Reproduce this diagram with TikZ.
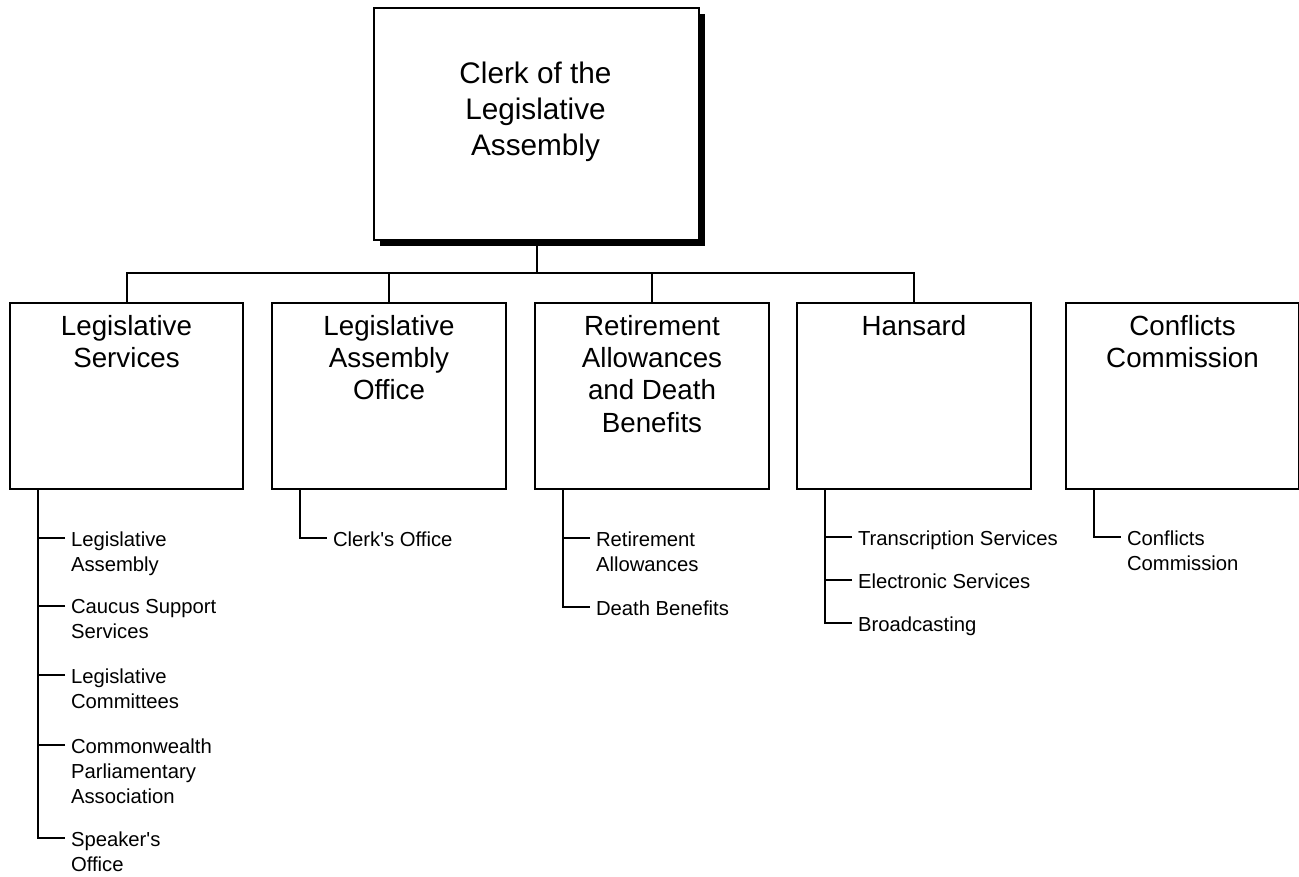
\documentclass[tikz,border=0pt]{standalone}
\usepackage{fontspec}
\newfontfamily\arial{Liberation Sans}
\usetikzlibrary{shadows}
\begin{document}
\begin{tikzpicture}[x=0.75pt,y=-0.75pt,line width=1.5pt,
  unit/.style={draw,fill=white,line width=1.5pt,inner sep=0pt,anchor=north west,
    minimum width=174.75pt,minimum height=139.5pt},
  topbox/.style={draw,fill=white,line width=1.5pt,inner sep=0pt,anchor=north west,
    minimum width=243.75pt,minimum height=174pt,
    drop shadow={shadow xshift=4.8pt,shadow yshift=-4.8pt,fill=black,opacity=1}},
  toptext/.style={anchor=north,inner sep=0pt,align=center,font=\arial\fontsize{22.3}{27}\selectfont},
  unittext/.style={anchor=north,inner sep=0pt,align=center,font=\arial\fontsize{20.8}{24.3}\selectfont},
  item/.style={anchor=north west,inner sep=0pt,align=left,font=\arial\fontsize{15.2}{18.9}\selectfont},
  link/.style={line width=1.5pt}]
\useasboundingbox (0,0) rectangle (1299,876);

% top box
\node[topbox] (top) at (373,7) {};
\node[toptext] (toptxt) at (535.5,61) {Clerk of the\\Legislative\\Assembly};

% second level boxes
\node[unit] (ls)  at (9,302) {};
\node[unit,minimum width=175.5pt] (lao) at (271,302) {};
\node[unit,minimum width=175.5pt] (ra)  at (534,302) {};
\node[unit,minimum width=175.5pt] (han) at (796,302) {};
\node[unit] (cc)  at (1065,302) {};

\node[unittext] (lstxt)  at (ls.center |- 0,314) {Legislative\\Services};
\node[unittext] (laotxt) at (lao.center |- 0,314) {Legislative\\Assembly\\Office};
\node[unittext] (ratxt)  at (ra.center |- 0,314) {Retirement\\Allowances\\and Death\\Benefits};
\node[unittext] (hantxt) at (han.center |- 0,314) {Hansard};
\node[unittext] (cctxt)  at (cc.center |- 0,314) {Conflicts\\Commission};

% bus
\coordinate (j) at (top.south |- 0,273);
\draw[link] (top.south) -- (j);
\draw[link] (j) -| (ls.north);
\draw[link] (j) -| (lao.north);
\draw[link] (j) -| (ra.north);
\draw[link] (j) -| (han.north);

% sub items: Legislative Services
\node[item] (ls1) at (70,530.6) {Legislative\\Assembly};
\node[item] (ls2) at (70,598.6) {Caucus Support\\Services};
\node[item] (ls3) at (70,667.6) {Legislative\\Committees};
\node[item] (ls4) at (70,737.6) {Commonwealth\\Parliamentary\\Association};
\node[item] (ls5) at (70,830.6) {Speaker's\\Office};
\draw[link] ([xshift=21.75pt]ls.south west) |- ([shift={(-5,7.4)}]ls5.north west);
\foreach \n in {ls1,ls2,ls3,ls4}
  \draw[link] ([shift={(-5,7.4)}]\n.north west) -- ++(-27,0);

% Legislative Assembly Office
\node[item] (lao1) at (332,530.6) {Clerk's Office};
\draw[link] ([xshift=21.75pt]lao.south west) |- ([shift={(-5,7.4)}]lao1.north west);

% Retirement Allowances
\node[item] (ra1) at (595,530.6) {Retirement\\Allowances};
\node[item] (ra2) at (595,599.6) {Death Benefits};
\draw[link] ([xshift=21.75pt]ra.south west) |- ([shift={(-5,7.4)}]ra2.north west);
\draw[link] ([shift={(-5,7.4)}]ra1.north west) -- ++(-27,0);

% Hansard
\node[item] (han1) at (857,529.6) {Transcription Services};
\node[item] (han2) at (857,572.6) {Electronic Services};
\node[item] (han3) at (857,615.6) {Broadcasting};
\draw[link] ([xshift=21.75pt]han.south west) |- ([shift={(-5,7.4)}]han3.north west);
\draw[link] ([shift={(-5,7.4)}]han1.north west) -- ++(-27,0);
\draw[link] ([shift={(-5,7.4)}]han2.north west) -- ++(-27,0);

% Conflicts Commission
\node[item] (cc1) at (1126,529.6) {Conflicts\\Commission};
\draw[link] ([xshift=21.75pt]cc.south west) |- ([shift={(-5,7.4)}]cc1.north west);
\end{tikzpicture}
\end{document}
